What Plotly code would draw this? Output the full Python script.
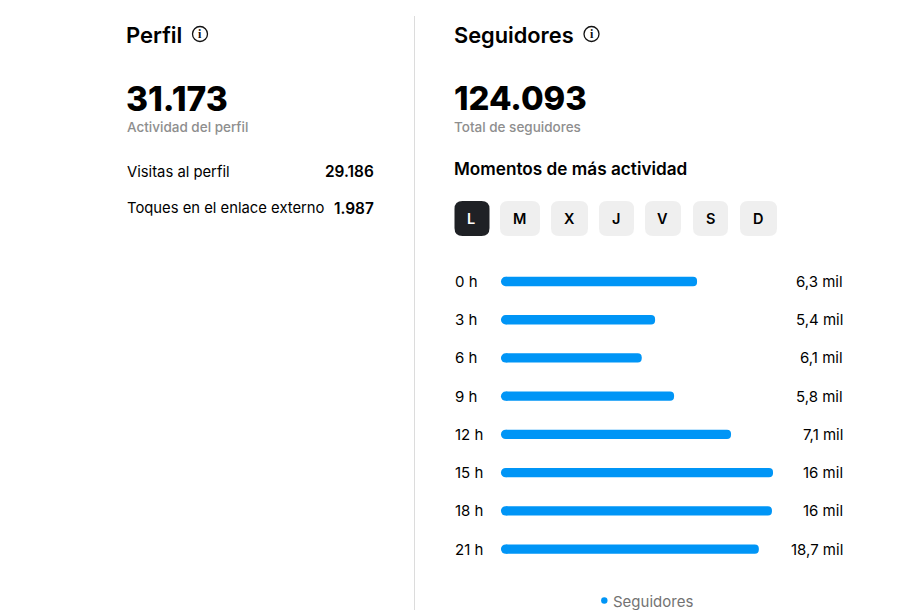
import plotly.graph_objects as go

hours = ["0 h", "3 h", "6 h", "9 h", "12 h", "15 h", "18 h", "21 h"]
bar_lengths = [71.6, 55.9, 50.9, 63.0, 84.3, 100.0, 99.6, 94.7]
value_labels = ["6,3 mil", "5,4 mil", "6,1 mil", "5,8 mil", "7,1 mil", "16 mil", "16 mil", "18,7 mil"]
days = ["L", "M", "X", "J", "V", "S", "D"]
profile_rows = [("Visitas al perfil", "29.186"), ("Toques en el enlace externo", "1.987")]

W, H = 900, 610
FONT = "Inter"
BLUE = "#0095f6"
INK = "#000000"
GREY = "#8e8e8e"

px = lambda x: x / W
py = lambda y: 1 - y / H


def text(x, y, s, size, weight=400, color=INK, anchor="left"):
    return dict(xref="paper", yref="paper", x=px(x), y=py(y), text=s, showarrow=False,
                xanchor=anchor, yanchor="middle", align=anchor, borderpad=0,
                font=dict(family=FONT, size=size, color=color, weight=weight))


def rounded(x0, y0, x1, y1, r, fill):
    X0, X1, Y0, Y1 = px(x0), px(x1), py(y0), py(y1)
    rx, ry = r / W, r / H
    path = (f"M {X0+rx} {Y0} L {X1-rx} {Y0} Q {X1} {Y0} {X1} {Y0-ry} L {X1} {Y1+ry} Q {X1} {Y1} {X1-rx} {Y1} "
            f"L {X0+rx} {Y1} Q {X0} {Y1} {X0} {Y1+ry} L {X0} {Y0-ry} Q {X0} {Y0} {X0+rx} {Y0} Z")
    return dict(type="path", xref="paper", yref="paper", path=path, fillcolor=fill, line=dict(width=0), layer="below")


def circle(cx, cy, r, fill="rgba(0,0,0,0)", line=None):
    return dict(type="circle", xref="paper", yref="paper", x0=px(cx - r), x1=px(cx + r),
                y0=py(cy + r), y1=py(cy - r), fillcolor=fill,
                line=dict(color=line or fill, width=1.3 if line else 0))


fig = go.Figure()
fig.add_trace(go.Bar(y=hours, x=bar_lengths, orientation="h", marker=dict(color=BLUE, line=dict(width=0)),
                     showlegend=False, name="Seguidores"))
fig.add_trace(go.Scatter(y=hours, x=[0] * len(hours), mode="markers", showlegend=False, cliponaxis=False,
                         marker=dict(color=BLUE, size=9.3, line=dict(width=0)), hoverinfo="skip"))

ann = []
shapes = []
shapes.append(dict(type="line", xref="paper", yref="paper", x0=px(414.5), x1=px(414.5), y0=py(16), y1=0,
                   line=dict(color="#dcdcdc", width=1)))

ann += [text(125.3, 35.5, "Perfil", 22, 600), text(125.3, 98, "31.173", 33.6, 800),
        text(125.5, 127, "Actividad del perfil", 13.5, 500, GREY)]
for (lab, val), y in zip(profile_rows, [171.5, 208.5]):
    ann += [text(125.5, y, lab, 14.8, 400), text(375, y, val, 15.4, 600, anchor="right")]

ann += [text(453.2, 35.5, "Seguidores", 21.8, 600), text(453.2, 98, "124.093", 32.8, 800),
        text(453.2, 127, "Total de seguidores", 13.5, 500, GREY),
        text(453.2, 168.5, "Momentos de más actividad", 17.2, 600)]

for cx in (200, 591.5):
    shapes.append(circle(cx, 34, 7.5, line="#111111"))
    ann.append(dict(xref="paper", yref="paper", x=px(cx), y=py(34), text="i", showarrow=False,
                    xanchor="center", yanchor="middle",
                    font=dict(family="Liberation Serif", size=12, color="#111111", weight=700)))

day_edges = [(454.5, 489.5), (500, 540), (551, 588), (599, 634), (645, 681), (693, 728), (740, 777)]
for i, (d, (a, b)) in enumerate(zip(days, day_edges)):
    shapes.append(rounded(a, 201, b, 236, 8, "#1f2125" if i == 0 else "#efefef"))
    ann.append(text((a + b) / 2 - 0.5, 218.5, d, 14.5, 600, "#ffffff" if i == 0 else INK, "center"))

for h, v in zip(hours, value_labels):
    ann.append(dict(xref="paper", yref="y", x=px(453.5), y=h, text=h, showarrow=False, xanchor="left",
                    yanchor="middle", borderpad=0, font=dict(family=FONT, size=15, color=INK)))
    ann.append(dict(xref="paper", yref="y", x=px(843.5), y=h, text=v, showarrow=False, xanchor="right",
                    yanchor="middle", borderpad=0, font=dict(family=FONT, size=15, color=INK)))

shapes.append(circle(604.3, 600.5, 3.2, fill=BLUE))
ann.append(text(611.5, 601.5, "Seguidores", 15, 400, "#737373"))

fig.update_layout(
    width=W, height=H, margin=dict(l=0, r=0, t=0, b=0), paper_bgcolor="white", plot_bgcolor="white",
    barcornerradius=4.6, bargap=0.757, annotations=ann, shapes=shapes, showlegend=False,
    xaxis=dict(domain=[px(505.6), px(773)], range=[0, 100], visible=False, fixedrange=True),
    yaxis=dict(domain=[py(568.2), py(262.4)], categoryorder="array", categoryarray=hours,
               range=[7.5, -0.5], visible=False, fixedrange=True),
)
fig.write_html("out.html", config=dict(displayModeBar=False),
               post_script="document.body.style.margin='0';document.body.style.overflow='hidden';")
